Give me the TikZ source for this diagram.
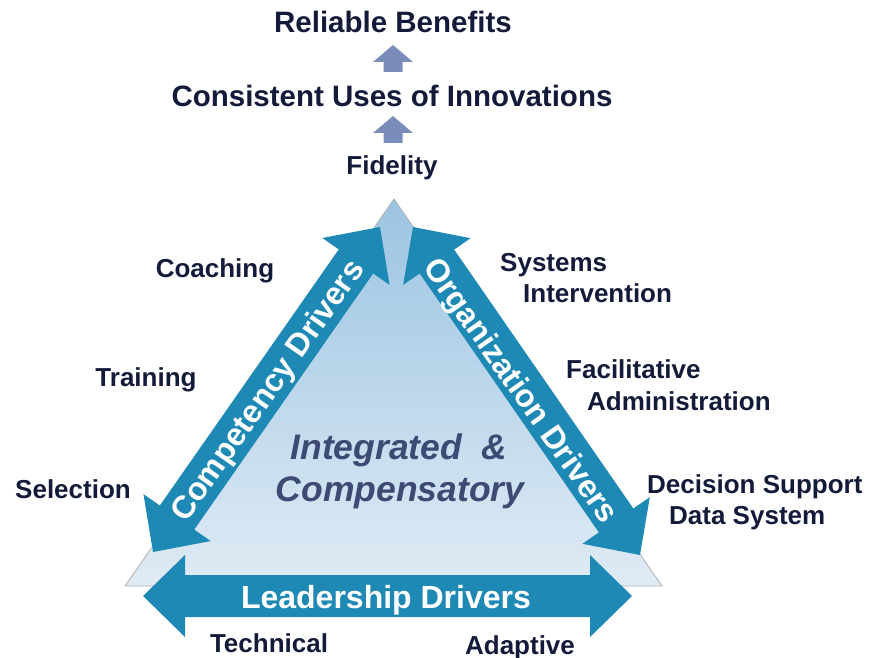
\documentclass[tikz,border=0pt]{standalone}
\usepackage{fontspec}
\setmainfont{Liberation Sans}
\usetikzlibrary{calc}
\definecolor{arrowblue}{RGB}{30,137,180}
\definecolor{navytext}{RGB}{20,27,58}
\definecolor{slatetext}{RGB}{60,74,116}
\definecolor{uparrow}{RGB}{122,140,185}
\definecolor{tritop}{RGB}{155,196,226}
\definecolor{tribot}{RGB}{224,235,245}
\tikzset{
  lbl/.style={font=\fontsize{26}{30}\selectfont\bfseries, text=navytext, inner sep=0pt, text height=18.6pt, text depth=0pt},
  ttl/.style={font=\fontsize{29.5}{34}\selectfont\bfseries, text=navytext, inner sep=0pt, text height=21.1pt, text depth=0pt},
  drv/.style={font=\fontsize{32}{36}\selectfont\bfseries, text=white, inner sep=0pt, text height=22.9pt, text depth=0pt},
  ctr/.style={font=\fontsize{35.5}{40}\selectfont\bfseries\itshape, text=slatetext, inner sep=0pt, text height=25.4pt, text depth=0pt},
  blockfill/.style={fill=arrowblue},
  upfill/.style={fill=uparrow},
}
\newcommand\blockdbl[3]{%
  \coordinate (#3p1) at ($(#1)!42pt!(#2)$);
  \coordinate (#3p2) at ($(#2)!42pt!(#1)$);
  \fill[blockfill] (#1) -- ($(#3p1)!41pt!90:(#2)$) -- ($(#3p1)!21pt!90:(#2)$)
    -- ($(#3p2)!21pt!-90:(#1)$) -- ($(#3p2)!41pt!-90:(#1)$) -- (#2)
    -- ($(#3p2)!41pt!90:(#1)$) -- ($(#3p2)!21pt!90:(#1)$)
    -- ($(#3p1)!21pt!-90:(#2)$) -- ($(#3p1)!41pt!-90:(#2)$) -- cycle;
}
\newcommand\blockup[2]{% #1 tip coordinate name, #2 prefix
  \fill[upfill] (#1) -- ++(20,17) -- ++(-10.5,0) -- ++(0,10) -- ++(-19,0) -- ++(0,-10) -- ++(-10.5,0) -- cycle;
}
\begin{document}
\begin{tikzpicture}[x=1pt,y=-1pt]
\useasboundingbox (0,0) rectangle (871,658);
% triangle
\coordinate (apex) at (394,199);
\coordinate (bl) at (125,586);
\coordinate (br) at (662,586);
\shadedraw[top color=tritop, bottom color=tribot, draw=black!30, line width=0.8pt] (apex) -- (bl) -- (br) -- cycle;
% block arrows
\coordinate (lda) at (143,596);
\coordinate (ldb) at (632,596);
\blockdbl{lda}{ldb}{ld}
\coordinate (cda) at (153,552);
\coordinate (cdb) at (380,227);
\blockdbl{cda}{cdb}{cd}
\coordinate (oda) at (413,227);
\coordinate (odb) at (640,555);
\blockdbl{oda}{odb}{od}
% arrow labels
\node[drv] (leadtxt) at (386,597) {Leadership Drivers};
\node[drv, rotate=54.9] (comptxt) at (266.5,390) {Competency Drivers};
\node[drv, rotate=-54.9] (orgtxt) at (522,390) {Organization Drivers};
% centre
\node[ctr] (integ) at (399,447) {Integrated\ \ \&};
\node[ctr] (comp) at (400,489) {Compensatory};
% top
\node[ttl] (benefits) at (393,22) {Reliable Benefits};
\node[ttl] (uses) at (392,96) {Consistent Uses of Innovations};
\node[lbl] (fidelity) at (392,165) {Fidelity};
\coordinate (up1) at (393,45);
\coordinate (up2) at (393,116);
\blockup{up1}{ua}
\blockup{up2}{ub}
% left labels
\node[lbl] (coaching) at (215,268) {Coaching};
\node[lbl] (training) at (146,377) {Training};
\node[lbl] (selection) at (73,489) {Selection};
% right labels
\node[lbl, anchor=west] (sys1) at (500,262) {Systems};
\node[lbl, anchor=west] (sys2) at (523,293) {Intervention};
\node[lbl, anchor=west] (fac1) at (566,369) {Facilitative};
\node[lbl, anchor=west] (fac2) at (587,401) {Administration};
\node[lbl, anchor=west] (dec1) at (647,484) {Decision Support};
\node[lbl, anchor=west] (dec2) at (669,515) {Data System};
% bottom labels
\node[lbl] (technical) at (269,643) {Technical};
\node[lbl] (adaptive) at (520,645) {Adaptive};
\end{tikzpicture}
\end{document}
